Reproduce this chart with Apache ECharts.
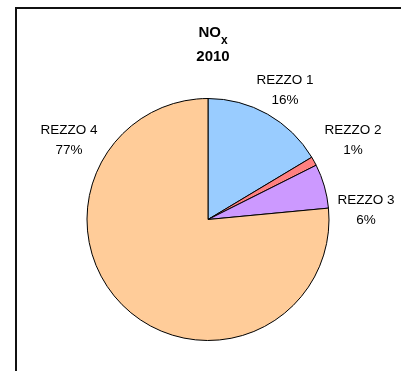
<!DOCTYPE html>
<html>
<head>
<meta charset="utf-8">
<script src="https://cdn.jsdelivr.net/npm/echarts@6/dist/echarts.min.js"></script>
<style>
  html, body { margin: 0; padding: 0; background: #fff; }
  #chart { width: 401px; height: 371px; }
</style>
</head>
<body>
<div id="chart"></div>
<script>
// NOx emissions by sector, 2010
const categories = ['REZZO 1', 'REZZO 2', 'REZZO 3', 'REZZO 4'];
const shares = [16.4, 1.2, 5.9, 76.5];
const sliceColors = ['#99CCFF', '#FF8080', '#CC99FF', '#FFCC99'];

// where each two-line label block is centred
const labelSpots = [[285, 90], [353, 140], [366, 210], [69, 140]];

const FONT = '"Liberation Sans", Arial, sans-serif';

const chart = echarts.init(document.getElementById('chart'), null, { renderer: 'canvas' });

chart.setOption({
  backgroundColor: '#fff',
  animation: false,
  title: {
    text: '{a|NO}{b|x}\n{c|2010}',
    left: 213,
    top: 21,
    padding: 0,
    textAlign: 'center',
    textStyle: {
      fontFamily: FONT,
      rich: {
        a: { fontSize: 15, fontWeight: 'bold', color: '#000', lineHeight: 24, fontFamily: FONT },
        // subscript x, pushed down below the baseline of "NO"
        b: { fontSize: 12, fontWeight: 'bold', color: '#000', lineHeight: 12, fontFamily: FONT,
             verticalAlign: 'top', padding: [14, 0, 0, 0] },
        c: { fontSize: 15, fontWeight: 'bold', color: '#000', lineHeight: 24, fontFamily: FONT }
      }
    }
  },
  graphic: [{
    type: 'rect',
    shape: { x: 16, y: 8, width: 600, height: 600 },
    style: { fill: null, stroke: '#111', lineWidth: 2 },
    silent: true
  }],
  series: [{
    type: 'pie',
    center: [208, 219.5],
    radius: 121,
    startAngle: 90,
    clockwise: true,
    percentPrecision: 0,
    avoidLabelOverlap: false,
    itemStyle: { borderColor: '#000', borderWidth: 1 },
    label: {
      show: true,
      position: 'outside',
      formatter: '{b}\n{d}%',
      fontFamily: FONT,
      fontSize: 13.5,
      lineHeight: 20,
      color: '#000',
      align: 'center'
    },
    labelLine: { show: false },
    labelLayout: function (p) {
      const s = labelSpots[p.dataIndex];
      return { x: s[0], y: s[1], align: 'center', verticalAlign: 'middle' };
    },
    emphasis: { disabled: true },
    data: categories.map((name, i) => ({
      name: name,
      value: shares[i],
      itemStyle: { color: sliceColors[i] }
    }))
  }]
});
</script>
</body>
</html>
